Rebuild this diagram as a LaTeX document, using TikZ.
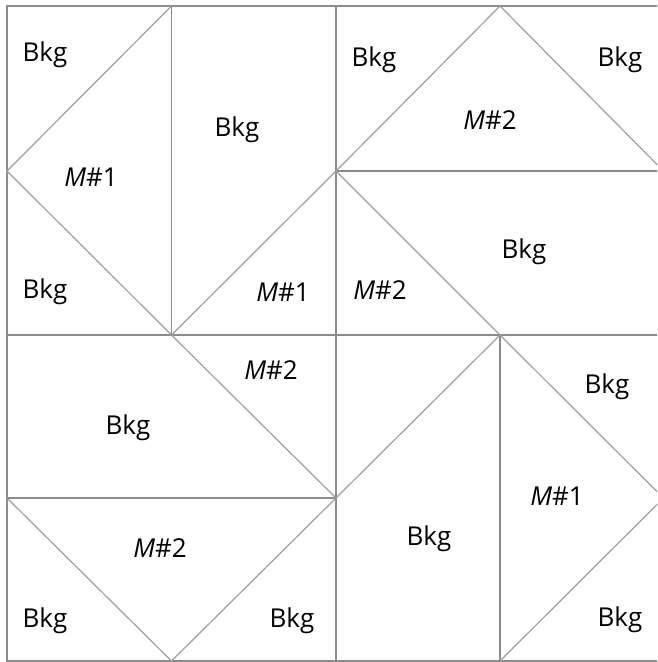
\documentclass[tikz,border=0pt]{standalone}
\usepackage{fontspec}
\setmainfont{Open Sans}
\begin{document}
\begin{tikzpicture}[x=1pt,y=-1pt,
  grid/.style={draw=black!45,line width=1.4pt},
  diag/.style={draw=black!38,line width=1.2pt},
  lbl/.style={font=\fontsize{26}{28}\selectfont,inner sep=0pt}]
\useasboundingbox (0,0) rectangle (657,662);
\clip (0,0) rectangle (657,662);
% grid coordinates
\coordinate (a0) at (7,6);     \coordinate (a1) at (171.5,6);   \coordinate (a2) at (336,6);   \coordinate (a3) at (500,6);   \coordinate (a4) at (663.5,6);
\coordinate (b0) at (7,171);   \coordinate (b1) at (171.5,171); \coordinate (b2) at (336,171); \coordinate (b3) at (500,171); \coordinate (b4) at (663.5,171);
\coordinate (c0) at (7,335);   \coordinate (c1) at (171.5,335); \coordinate (c2) at (336,335); \coordinate (c3) at (500,335); \coordinate (c4) at (663.5,335);
\coordinate (d0) at (7,498);   \coordinate (d1) at (171.5,498); \coordinate (d2) at (336,498); \coordinate (d3) at (500,498); \coordinate (d4) at (663.5,498);
\coordinate (e0) at (7,661);   \coordinate (e1) at (171.5,661); \coordinate (e2) at (336,661); \coordinate (e3) at (500,661); \coordinate (e4) at (663.5,661);
% outer border and grid
\draw[grid] (a0) rectangle (e4);
\draw[grid] (a1) -- (c1);
\draw[grid] (a2) -- (e2);
\draw[grid] (c3) -- (e3);
\draw[grid] (b2) -- (b4);
\draw[grid] (c0) -- (c4);
\draw[grid] (d0) -- (d2);
% diagonals
\draw[diag] (a1) -- (b0) -- (c1) -- (b2) -- (a3) -- (b4);
\draw[diag] (b2) -- (c3);
\draw[diag] (c1) -- (d2) -- (c3) -- (d4) -- (e3);
\draw[diag] (d0) -- (e1) -- (d2);
% labels
\node[lbl] (t1) at (45,55) {Bkg};
\node[lbl] (t2) at (91,177) {\textit{M}\#1};
\node[lbl] (t3) at (45,292) {Bkg};
\node[lbl] (t4) at (237,130) {Bkg};
\node[lbl] (t5) at (283,292) {\textit{M}\#1};
\node[lbl] (t6) at (374,60) {Bkg};
\node[lbl] (t7) at (620,60) {Bkg};
\node[lbl] (t8) at (490,120) {\textit{M}\#2};
\node[lbl] (t9) at (524,252) {Bkg};
\node[lbl] (t10) at (380,290) {\textit{M}\#2};
\node[lbl] (t11) at (271,370) {\textit{M}\#2};
\node[lbl] (t12) at (128,428) {Bkg};
\node[lbl] (t13) at (160,548) {\textit{M}\#2};
\node[lbl] (t14) at (45,621) {Bkg};
\node[lbl] (t15) at (292,621) {Bkg};
\node[lbl] (t16) at (607,387) {Bkg};
\node[lbl] (t17) at (557,496) {\textit{M}\#1};
\node[lbl] (t18) at (429,539) {Bkg};
\node[lbl] (t19) at (620,620) {Bkg};
\end{tikzpicture}
\end{document}
